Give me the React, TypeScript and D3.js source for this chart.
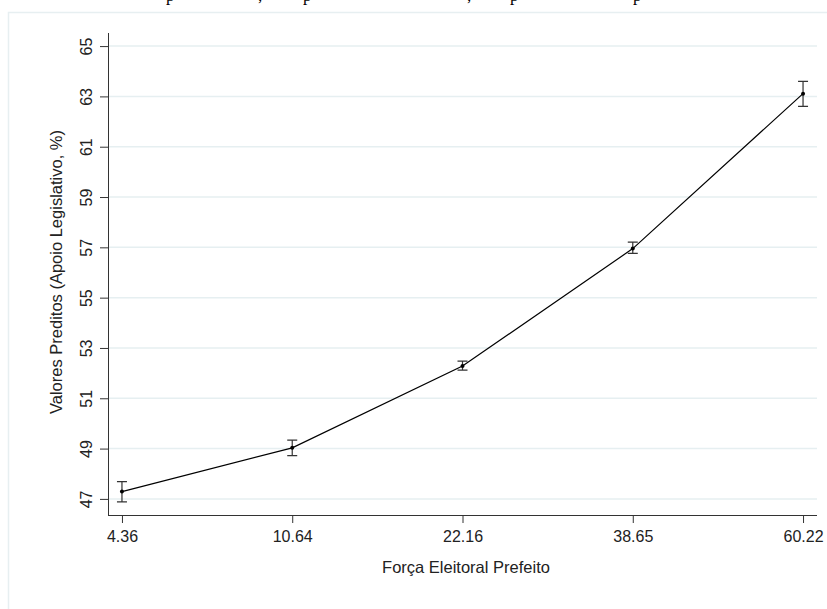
import React, { useEffect, useRef } from 'react';
import * as d3 from 'd3';

// Força Eleitoral Prefeito (categorias do eixo x)
const categories = ['4.36', '10.64', '22.16', '38.65', '60.22'];
// valores preditos e intervalos de confiança
const predicted = [47.29, 49.03, 52.28, 56.95, 63.11];
const lower = [46.88, 48.72, 52.12, 56.76, 62.6];
const upper = [47.69, 49.34, 52.48, 57.21, 63.6];
const yTicks = [47, 49, 51, 53, 55, 57, 59, 61, 63, 65];

// restos da linha de texto cortada acima do gráfico
const cutGlyphs = [
  { ch: 'p', x: 166 },
  { ch: ',', x: 258 },
  { ch: 'p', x: 303 },
  { ch: ',', x: 467 },
  { ch: 'p', x: 510 },
  { ch: 'p', x: 633 },
];

const width = 827;
const height = 609;

function App() {
  const ref = useRef<SVGSVGElement>(null);

  useEffect(() => {
    const svg = d3.select(ref.current);
    svg.selectAll('*').remove();

    const font = 'Arial, "Liberation Sans", Helvetica, sans-serif';
    const left = 108;
    const right = 817;
    const bottom = 515;
    const top = 33;

    const x = d3.scalePoint<string>().domain(categories).range([left, right]).padding(0.082);
    const y = d3.scaleLinear().domain([46.36, 65.52]).range([bottom, top]);

    svg.append('rect')
      .attr('width', width)
      .attr('height', height)
      .attr('fill', '#fff');

    // texto cortado no topo
    svg.append('g')
      .selectAll('text')
      .data(cutGlyphs)
      .join('text')
      .attr('x', (d) => d.x)
      .attr('y', 0.5)
      .attr('font-family', '"Liberation Serif", "Times New Roman", serif')
      .attr('font-size', 17)
      .attr('fill', '#000')
      .text((d) => d.ch);

    // moldura externa
    svg.append('rect')
      .attr('x', 8.5)
      .attr('y', 12.5)
      .attr('width', width + 20)
      .attr('height', height + 20)
      .attr('fill', 'none')
      .attr('stroke', '#e7eff1')
      .attr('stroke-width', 1.5);

    // grade
    svg.append('g')
      .selectAll('line')
      .data(yTicks)
      .join('line')
      .attr('x1', left)
      .attr('x2', right)
      .attr('y1', (d) => y(d))
      .attr('y2', (d) => y(d))
      .attr('stroke', '#e6eff1')
      .attr('stroke-width', 1.5);

    // eixo y
    const yAxis = svg.append('g')
      .attr('transform', `translate(${left},0)`)
      .call(d3.axisLeft(y).tickValues(yTicks).tickSize(8).tickSizeOuter(0).tickFormat(d3.format('d')));
    yAxis.select('.domain').attr('stroke', '#333').attr('d', `M0.5,${top}V${bottom}`);
    yAxis.selectAll('.tick line').attr('stroke', '#333');
    yAxis.selectAll('.tick text')
      .attr('font-family', font)
      .attr('font-size', 16)
      .attr('fill', '#222')
      .attr('x', null)
      .attr('dy', null)
      .attr('text-anchor', 'middle')
      .attr('transform', 'translate(-16,0) rotate(-90)');

    // eixo x
    const xAxis = svg.append('g')
      .attr('transform', `translate(0,${bottom})`)
      .call(d3.axisBottom(x).tickSize(8).tickSizeOuter(0));
    xAxis.select('.domain').attr('stroke', '#333').attr('d', `M${left},0.5H${right}`);
    xAxis.selectAll('.tick line').attr('stroke', '#333');
    xAxis.selectAll('.tick text')
      .attr('font-family', font)
      .attr('font-size', 16)
      .attr('fill', '#222')
      .attr('y', 27)
      .attr('dy', null);

    // títulos dos eixos
    svg.append('text')
      .attr('x', 466)
      .attr('y', 573)
      .attr('text-anchor', 'middle')
      .attr('font-family', font)
      .attr('font-size', 16.5)
      .attr('fill', '#222')
      .text('Força Eleitoral Prefeito');

    svg.append('text')
      .attr('transform', 'translate(62,272) rotate(-90)')
      .attr('text-anchor', 'middle')
      .attr('font-family', font)
      .attr('font-size', 16.5)
      .attr('fill', '#222')
      .text('Valores Preditos (Apoio Legislativo, %)');

    const idx = d3.range(categories.length);

    // linha
    const line = d3.line<number>()
      .x((i) => x(categories[i]) as number)
      .y((i) => y(predicted[i]));
    svg.append('path')
      .attr('d', line(idx))
      .attr('fill', 'none')
      .attr('stroke', '#000')
      .attr('stroke-width', 1.2);

    // barras de erro
    const bars = svg.append('g')
      .attr('stroke', '#333')
      .attr('stroke-width', 1.2);
    bars.selectAll('path')
      .data(idx)
      .join('path')
      .attr('fill', 'none')
      .attr('d', (i) => {
        const cx = x(categories[i]) as number;
        const y0 = y(lower[i]);
        const y1 = y(upper[i]);
        return `M${cx - 5},${y1}H${cx + 5}M${cx},${y1}V${y0}M${cx - 5},${y0}H${cx + 5}`;
      });

    // pontos
    svg.append('g')
      .selectAll('circle')
      .data(idx)
      .join('circle')
      .attr('cx', (i) => x(categories[i]) as number)
      .attr('cy', (i) => y(predicted[i]))
      .attr('r', 2)
      .attr('fill', '#000');
  }, []);

  return (
    <svg
      ref={ref}
      width={width}
      height={height}
      style={{ position: 'absolute', left: 0, top: 0, display: 'block' }}
    />
  );
}

export default App;
